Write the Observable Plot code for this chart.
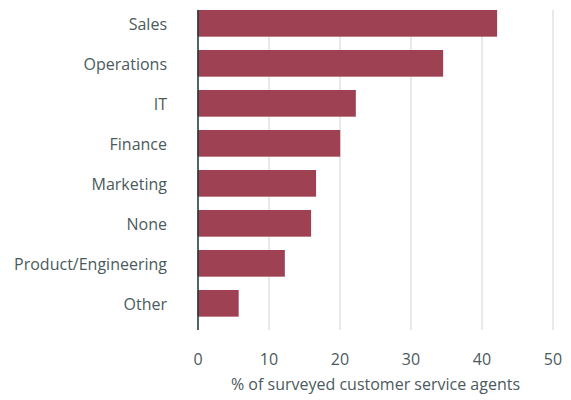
<!DOCTYPE html>
<html>
<head>
<meta charset="utf-8">
<script src="https://cdn.jsdelivr.net/npm/d3@7"></script>
<script src="https://cdn.jsdelivr.net/npm/@observablehq/plot@0.6"></script>
<style>
  html, body { margin: 0; padding: 0; background: #fff; }
  #chart svg { display: block; }
</style>
</head>
<body>
<div id="chart"></div>
<script>
const categories = ["Sales", "Operations", "IT", "Finance", "Marketing", "None", "Product/Engineering", "Other"];
const values = [42.2, 34.6, 22.3, 20.1, 16.7, 16.0, 12.3, 5.8];
const xTicks = [0, 10, 20, 30, 40, 50];
const xLabel = "% of surveyed customer service agents";

const data = categories.map((c, i) => ({category: c, value: values[i]}));
const textColor = "#4b5a5c";

const chart = Plot.plot({
  width: 571,
  height: 400,
  marginTop: 10,
  marginBottom: 70,
  marginLeft: 197.5,
  marginRight: 18.5,
  style: {fontFamily: "'Open Sans', Lato, sans-serif", fontSize: "16px", color: textColor, background: "#fff"},
  x: {domain: [0, 50], ticks: xTicks},
  y: {domain: categories, range: [10, 330], paddingInner: 0.333, paddingOuter: 0.1667, align: 0, round: false},
  marks: [
    Plot.gridX(xTicks, {stroke: "#e6e1e1", strokeOpacity: 1, strokeWidth: 1.5}),
    Plot.barX(data, {x: "value", y: "category", fill: "#9d4153"}),
    Plot.ruleX([0], {stroke: "#1f383b", strokeWidth: 1.5}),
    Plot.axisX(xTicks, {tickSize: 0, tickPadding: 23, label: null, fill: textColor, fontSize: 16}),
    Plot.axisY({tickSize: 0, tickPadding: 31, dy: 1, label: null, fill: textColor, fontSize: 16}),
    Plot.text([xLabel], {frameAnchor: "bottom", dy: 59, fill: textColor, fontSize: 16})
  ]
});
document.getElementById("chart").appendChild(chart);
</script>
</body>
</html>
